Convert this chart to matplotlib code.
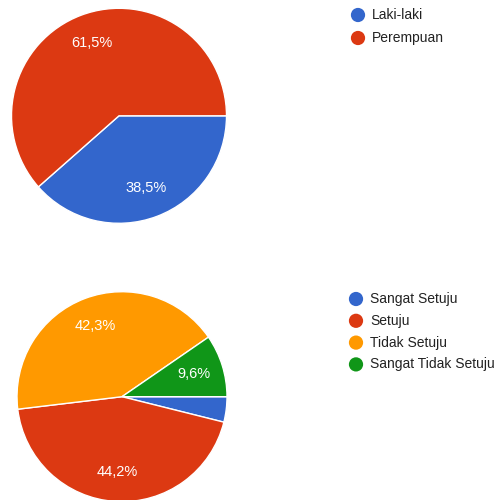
import numpy as np
import matplotlib.pyplot as plt

plt.rcParams['font.family'] = ['Liberation Sans', 'DejaVu Sans']

# data
gender_labels = ['Laki-laki', 'Perempuan']
gender_values = [38.5, 61.5]

agree_labels = ['Sangat Setuju', 'Setuju', 'Tidak Setuju', 'Sangat Tidak Setuju']
agree_values = [3.9, 44.2, 42.3, 9.6]

colors = ['#3366CC', '#DC3912', '#FF9900', '#109618']

W, H = 496, 500
fig = plt.figure(figsize=(W / 100, H / 100), dpi=100)
ax = fig.add_axes([0, 0, 1, 1])


def pct_label(v):
    # google forms hides labels on tiny slices
    return f"{v:.1f}%".replace('.', ',') if v >= 5 else ''


def draw_pie(values, labels, center, radius, legend_xy, legend_step, text_gap):
    ax.pie(values, colors=colors[:len(values)], startangle=0, counterclock=False,
           center=center, radius=radius, frame=True,
           labels=[pct_label(v) for v in values], labeldistance=0.72,
           wedgeprops=dict(edgecolor='white', linewidth=1),
           textprops=dict(color='white', fontsize=10.5, ha='center', va='center'))
    lx, ly = legend_xy
    for i, lab in enumerate(labels):
        y = ly - i * legend_step
        ax.scatter([lx], [y], s=105, color=colors[i], edgecolors='none', zorder=5)
        ax.text(lx + text_gap, y, lab, fontsize=10, color='#222222', va='center', ha='left')


draw_pie(gender_values, gender_labels, (119, H - 115.8), 107.5, (358, H - 15), 23, 14)
draw_pie(agree_values, agree_labels, (122, H - 396.7), 105, (356, H - 299), 21.8, 14)

ax.set_xlim(0, W)
ax.set_ylim(0, H)
ax.set_aspect('equal')
ax.axis('off')

fig.savefig('out.png', dpi=100)
